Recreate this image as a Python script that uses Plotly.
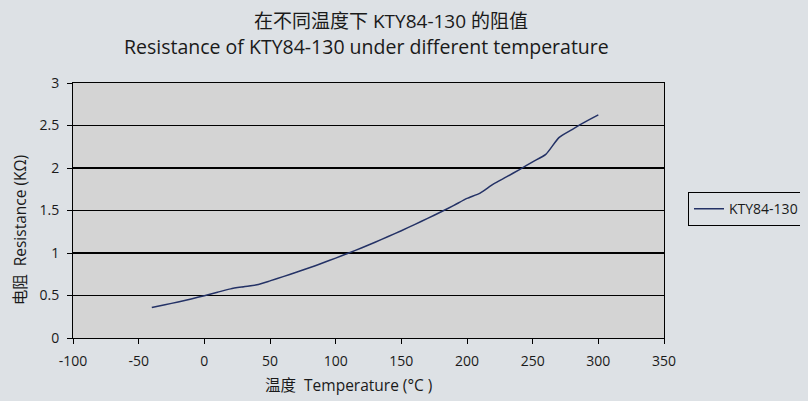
import plotly.graph_objects as go

temps = [-40, -30, -20, -10, 0, 10, 20, 30, 40, 50, 60, 70, 80, 90, 100, 110, 120,
         130, 140, 150, 160, 170, 180, 190, 200, 210, 220, 230, 240, 250, 260, 270,
         280, 290, 300]
resistance_kohm = [0.359, 0.391, 0.424, 0.460, 0.498, 0.538, 0.578, 0.603, 0.626, 0.672,
                   0.722, 0.773, 0.826, 0.882, 0.940, 1.000, 1.062, 1.127, 1.194, 1.262,
                   1.334, 1.407, 1.482, 1.560, 1.642, 1.705, 1.810, 1.895, 1.982, 2.073,
                   2.160, 2.357, 2.452, 2.542, 2.624]
x_ticks = [-100, -50, 0, 50, 100, 150, 200, 250, 300, 350]
y_ticks = [0, 0.5, 1, 1.5, 2, 2.5, 3]
series_name = "KTY84-130"
title_cn = "在不同温度下 KTY84-130 的阻值"
title_en = "Resistance of KTY84-130 under different temperature"
x_title = "温度  Temperature (°C )"
y_title = "电阻  Resistance (KΩ)"

FONT = "Open Sans, Noto Sans CJK SC, sans-serif"
PAPER = "#dde1e5"
PLOT = "#d4d4d4"
TXT = "#1a1a1a"

# the page body has an 8px default margin, so the figure is laid out 8px up/left
fig = go.Figure()
fig.add_trace(go.Scatter(
    x=temps, y=resistance_kohm, mode="lines", name=series_name,
    line=dict(color="#243266", width=1.5, shape="spline", smoothing=0.6),
))
# helper overlay axis for the heavier integer gridlines
fig.add_trace(go.Scatter(x=[temps[0]], y=[resistance_kohm[0]], yaxis="y2",
                         mode="markers", marker=dict(opacity=0), showlegend=False,
                         hoverinfo="skip"))

fig.update_layout(
    width=808, height=401,
    margin=dict(l=65, r=152, t=75, b=71, autoexpand=False),
    paper_bgcolor=PAPER, plot_bgcolor=PLOT,
    font=dict(family=FONT, size=14, color=TXT),
    showlegend=True,
    legend=dict(x=1.0406, y=0.505, xanchor="left", yanchor="middle",
                bgcolor=PAPER, bordercolor="#000000", borderwidth=1,
                font=dict(size=14, family=FONT, color=TXT),
                itemwidth=30, tracegroupgap=0),
    xaxis=dict(range=[-100, 350], tickvals=x_ticks, ticktext=[str(v) for v in x_ticks],
               showgrid=False, zeroline=False, showline=True, linecolor="#000000",
               linewidth=1, mirror=True, ticks="outside", ticklen=5, tickcolor="#000000",
               tickfont=dict(size=14), ticklabelstandoff=5),
    yaxis=dict(range=[0, 3], tickvals=y_ticks, ticktext=[("%g" % v) for v in y_ticks],
               showgrid=True, gridcolor="#000000", gridwidth=1, zeroline=False,
               showline=True, linecolor="#000000", linewidth=1, mirror=True,
               ticks="outside", ticklen=5, tickcolor="#000000", tickfont=dict(size=14),
               ticklabelstandoff=5),
    yaxis2=dict(range=[0, 3], overlaying="y", dtick=1, tick0=0, showgrid=True,
                gridcolor="#000000", gridwidth=2, showticklabels=False, zeroline=False,
                showline=False, ticks=""),
    annotations=[
        dict(text=title_cn, xref="paper", yref="paper", x=0.538, y=1.245,
             xanchor="center", yanchor="middle", showarrow=False,
             font=dict(size=19, family=FONT, color=TXT)),
        dict(text=title_en, xref="paper", yref="paper", x=0.497, y=1.145,
             xanchor="center", yanchor="middle", showarrow=False,
             font=dict(size=19.5, family=FONT, color=TXT)),
        dict(text=x_title, xref="paper", yref="paper", x=0.466, y=-0.185,
             xanchor="center", yanchor="middle", showarrow=False,
             font=dict(size=15.5, family=FONT, color=TXT)),
        dict(text=y_title, xref="paper", yref="paper", x=-0.0897, y=0.426,
             xanchor="center", yanchor="middle", showarrow=False, textangle=-90,
             font=dict(size=15.5, family=FONT, color=TXT)),
    ],
)

fig.write_html(
    "out.html",
    post_script=("document.documentElement.style.background='%s';"
                 "document.body.style.background='%s';" % (PAPER, PAPER)),
)
